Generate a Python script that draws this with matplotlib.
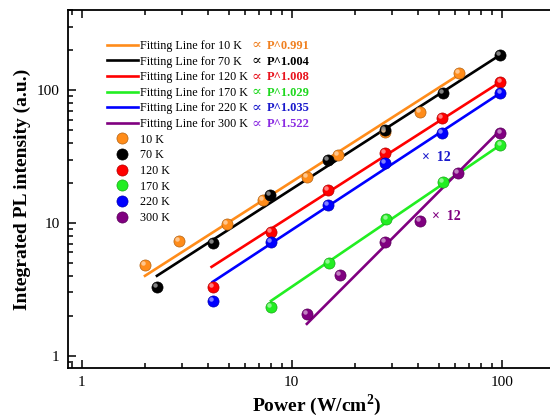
import numpy as np
import matplotlib
matplotlib.use("Agg")
import matplotlib.pyplot as plt
import matplotlib.transforms as mtransforms
from matplotlib.ticker import FuncFormatter, LogLocator
from matplotlib.lines import Line2D

plt.rcParams['font.family'] = ['Liberation Serif', 'DejaVu Serif']
plt.rcParams['mathtext.fontset'] = 'custom'
plt.rcParams['mathtext.rm'] = 'Liberation Serif'
plt.rcParams['mathtext.bf'] = 'Liberation Serif:bold'

temps = ["10 K", "70 K", "120 K", "170 K", "220 K", "300 K"]
exponents = ["0.991", "1.004", "1.008", "1.029", "1.035", "1.522"]
colors = ["#ff8c1a", "#000000", "#ff0000", "#22ee22", "#0000ff", "#800080"]
text_colors = ["#f08020", "#000000", "#e8141e", "#1fd81f", "#1a1acc", "#8a2be2"]

# measured points
x_10 = [2.0, 2.9, 4.9, 7.3, 11.8, 16.6, 27.7, 40.7, 62.4]
y_10 = [4.83, 7.3, 9.8, 14.9, 22.2, 32.5, 48.3, 68.3, 134]
x_70 = [2.28, 4.2, 7.86, 14.8, 27.7, 52.4, 97.9]
y_70 = [3.3, 7.07, 16.2, 29.8, 50, 94.9, 183]
x_120 = [4.2, 7.96, 14.8, 27.7, 51.9, 98.5]
y_120 = [3.3, 8.55, 17.7, 33.6, 61.5, 115]
x_170 = [7.96, 15.0, 28.2, 52.5, 98.5]
y_170 = [2.33, 5.0, 10.7, 20.3, 38.6]
x_220 = [4.2, 7.96, 14.8, 27.7, 51.9, 98.5]
y_220 = [2.59, 7.2, 13.7, 28.3, 47.5, 95]
x_300 = [11.8, 16.9, 27.7, 40.7, 61.8, 98.5]
y_300 = [2.07, 4.06, 7.2, 10.4, 23.8, 47.5]

# fitting line end points
fit_x = [[2.0, 62.4], [2.28, 97.9], [4.15, 98.5], [7.96, 98.5], [4.2, 98.5], [11.8, 98.5]]
fit_y = [[4.0, 130], [4.0, 183], [4.67, 115], [2.59, 38.6], [3.6, 95], [1.74, 50]]

# "x 12" notes (data position)
note_x = [41.6, 46.4]
note_y = [31.3, 11.1]
note_colors = ["#1a1acc", "#800080"]

xs = [x_10, x_70, x_120, x_170, x_220, x_300]
ys = [y_10, y_70, y_120, y_170, y_220, y_300]


def lighter(c, f):
    rgb = np.array(matplotlib.colors.to_rgb(c))
    return tuple(rgb + (1 - rgb) * f)


def darker(c, f):
    rgb = np.array(matplotlib.colors.to_rgb(c))
    return tuple(rgb * (1 - f))


fig = plt.figure(figsize=(5.5, 4.2), dpi=100)
ax = fig.add_axes([68 / 550, 52 / 420, 497 / 550, 358 / 420])
ax.set_xscale('log')
ax.set_yscale('log')

for i in range(6):
    ax.plot(fit_x[i], fit_y[i], color=colors[i], lw=1.9, zorder=2)

hl = mtransforms.offset_copy(ax.transData, fig=fig, x=-1.2, y=1.2, units='points')
for i in range(6):
    # sphere look: base ball plus small highlight
    ax.plot(xs[i], ys[i], 'o', ms=8, color=colors[i],
            mec=darker(colors[i], 0.3), mew=0.5, zorder=3)
    ax.plot(xs[i], ys[i], 'o', ms=3.2, color=lighter(colors[i], 0.6),
            mew=0, zorder=4, alpha=0.85, transform=hl)

ax.set_xlim(0.86, 200)
ax.set_ylim(0.81, 400)

ax.xaxis.set_major_formatter(FuncFormatter(lambda v, p: '%g' % v))
ax.yaxis.set_major_formatter(FuncFormatter(lambda v, p: '%g' % v))
ax.yaxis.set_minor_locator(LogLocator(base=10, subs=np.arange(2, 10)))
ax.xaxis.set_minor_locator(LogLocator(base=10, subs=np.arange(2, 10)))
ax.yaxis.set_minor_formatter(FuncFormatter(lambda v, p: ''))
ax.xaxis.set_minor_formatter(FuncFormatter(lambda v, p: ''))
ax.tick_params(which='both', direction='in', top=True, right=True,
               labelsize=11, width=1.1, pad=6)
ax.tick_params(which='major', length=6)
ax.tick_params(which='minor', length=3.5)
for s in ax.spines.values():
    s.set_linewidth(1.3)

ax.set_xlabel(r'Power (W/cm$^{\mathbf{2}}$)', fontsize=14, fontweight='bold', labelpad=2)
ax.set_ylabel('Integrated PL intensity (a.u.)', fontsize=14, fontweight='bold', labelpad=4)

handles = []
labels = []
for i in range(6):
    handles.append(Line2D([], [], color=colors[i], lw=1.9))
    labels.append("Fitting Line for " + temps[i])
for i in range(6):
    handles.append(Line2D([], [], ls='none', marker='o', ms=8, color=colors[i],
                          mec=darker(colors[i], 0.3), mew=0.5))
    labels.append(temps[i])

leg = ax.legend(handles, labels, loc='upper left', bbox_to_anchor=(0.068, 0.93),
                frameon=False, fontsize=8.7, handlelength=2.6, handletextpad=0.2,
                labelspacing=0.3, borderaxespad=0)

# exponent notes next to the fitting-line entries
fig.canvas.draw()
inv = ax.transAxes.inverted()
leg_texts = leg.get_texts()
for i in range(6):
    bb = leg_texts[i].get_window_extent()
    yc = inv.transform((0, (bb.y0 + bb.y1) / 2))[1]
    ax.text(0.370, yc, u"\u221d", transform=ax.transAxes,
            va='center', ha='left', fontsize=10.5, color=text_colors[i])
    ax.text(0.399, yc, "P^" + exponents[i], transform=ax.transAxes,
            va='center', ha='left', fontsize=9, fontweight='bold', color=text_colors[i])

for i in range(2):
    ax.text(note_x[i], note_y[i], u"\u00d7  12", color=note_colors[i], fontsize=10,
            fontweight='bold', va='center', ha='left')

fig.savefig("out.png", dpi=100)
